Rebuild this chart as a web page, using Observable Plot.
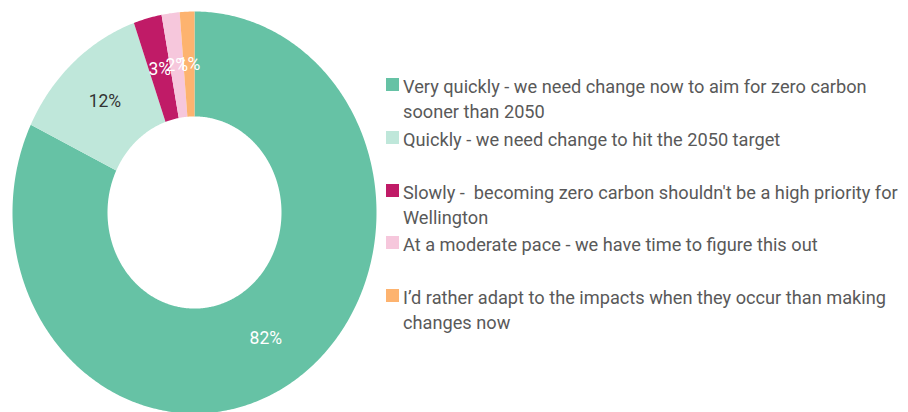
<!DOCTYPE html>
<html><head><meta charset="utf-8">
<script src="https://cdn.jsdelivr.net/npm/d3@7"></script>
<script src="https://cdn.jsdelivr.net/npm/@observablehq/plot@0.6"></script>
<style>
body{margin:0;background:#fff;}
#wrap{position:relative;width:908px;height:412px;overflow:hidden;font-family:Roboto,sans-serif;}
#chart{position:absolute;left:0;top:0;}
#legend{position:absolute;left:386px;top:74px;width:517px;}
#legend .lg-swatches{margin:0;font-family:Roboto,sans-serif;font-size:18.2px;color:#595959;}
#legend .lg-swatch{display:flex;align-items:flex-start;height:52.75px;padding:0;margin:0;}
#legend .lg-swatch svg{margin:4px 4px 0 0;flex-shrink:0;}
#legend .lg-swatch-label{white-space:pre-wrap;overflow:visible;line-height:25px;font-size:18.2px;color:#595959;}
</style>
</head><body>
<div id="wrap"><div id="chart"></div><div id="legend"></div></div>
<script>
const categories = [
  "Very quickly - we need change now to aim for zero carbon sooner than 2050",
  "Quickly - we need change to hit the 2050 target",
  "Slowly -  becoming zero carbon shouldn't be a high priority for Wellington",
  "At a moderate pace - we have time to figure this out",
  "I’d rather adapt to the impacts when they occur than making changes now"
];
const shares = [82.2, 12.4, 2.5, 1.6, 1.3];
const labels = ["82%", "12%", "3%", "2%", "1%"];
const colors = ["#66c2a5", "#bfe7da", "#c01b67", "#f6c7dc", "#fdb36f"];

const inner = 0.478;
const arcs = d3.pie().sort(null).value((d, i) => shares[i])(categories);

const ring = [];
for (const a of arcs) {
  const n = Math.max(2, Math.ceil((a.endAngle - a.startAngle) / 0.01));
  for (let t = 0; t <= n; t++) {
    const ang = a.startAngle + (a.endAngle - a.startAngle) * t / n;
    ring.push({cat: a.data, x: Math.sin(ang), y: Math.cos(ang)});
  }
  for (let t = n; t >= 0; t--) {
    const ang = a.startAngle + (a.endAngle - a.startAngle) * t / n;
    ring.push({cat: a.data, x: inner * Math.sin(ang), y: inner * Math.cos(ang)});
  }
}
const rm = (1 + inner) / 2;
const mid = a => (a.startAngle + a.endAngle) / 2;

const chart = Plot.plot({
  width: 908, height: 412, margin: 0,
  style: {fontFamily: "Roboto, sans-serif", background: "transparent"},
  x: {domain: [-1, 1], range: [12, 376], axis: null},
  y: {domain: [-1, 1], range: [413, 11], axis: null},
  color: {domain: categories, range: colors},
  marks: [
    Plot.line(ring, {x: "x", y: "y", z: "cat", fill: "cat", stroke: null, curve: "linear-closed"}),
    Plot.text(arcs, {
      x: a => rm * Math.sin(mid(a)),
      y: a => rm * Math.cos(mid(a)),
      text: a => labels[a.index],
      fill: a => a.index === 1 ? "#333333" : "#ffffff",
      fontSize: 17.5
    })
  ]
});
document.getElementById("chart").appendChild(chart);

const legend = Plot.legend({
  color: {type: "categorical", domain: categories, range: colors},
  columns: 1, swatchSize: 13, className: "lg"
});
document.getElementById("legend").appendChild(legend);
</script>
</body></html>
